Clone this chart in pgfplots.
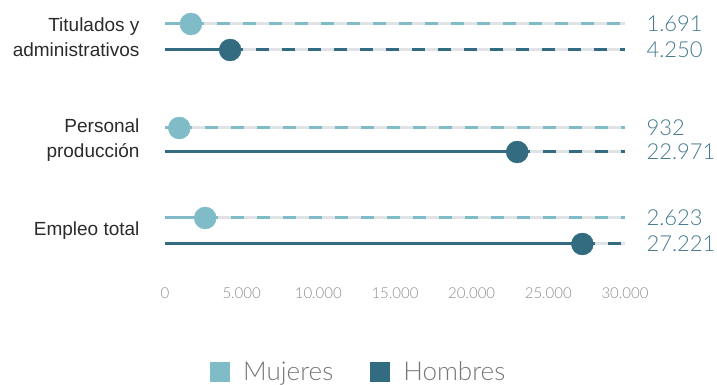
\documentclass[border=0pt]{standalone}
\usepackage{pgfplots}
\pgfplotsset{compat=1.18}
\usepackage{fontspec}
\setmainfont{Liberation Sans}
\newfontfamily\lightfont{Lato Light}
\definecolor{muj}{HTML}{7FBCC7}
\definecolor{hom}{HTML}{336B80}
\definecolor{bgl}{HTML}{DFE3E6}
\definecolor{valc}{HTML}{467A90}
\definecolor{tickc}{HTML}{8C8C8C}
\definecolor{legc}{HTML}{777777}
\definecolor{catc}{HTML}{2B2B2B}
\begin{document}
\begin{tikzpicture}
\useasboundingbox (0,0) rectangle (717pt,385pt);
\begin{axis}[
  at={(165pt,385pt)}, anchor=north west,
  scale only axis, width=460pt, height=280pt,
  xmin=0, xmax=30000, ymin=0, ymax=280,
  clip=false,
  axis line style={draw=none},
  major tick length=0pt,
  xtick={0,5000,10000,15000,20000,25000,30000},
  /pgf/number format/.cd, 1000 sep={.}, assume math mode=true, /pgfplots/.cd,
  scaled x ticks=false,
  xticklabel style={font=\lightfont\fontsize{15}{15}\selectfont, text=tickc, yshift=-4pt},
  ytick={49,140,243},
  yticklabels={Empleo total,{Personal\\producción},{Titulados y\\administrativos}},
  yticklabel style={align=right, font=\fontsize{19}{25}\selectfont, text=catc, xshift=-22pt},
  legend columns=2,
  legend style={at={(42pt,-92pt)}, anchor=west, draw=none, fill=none,
    font=\lightfont\fontsize{26}{26}\selectfont, text=legc,
    /tikz/every odd column/.append style={column sep=11pt},
    /tikz/every even column/.append style={column sep=35pt}},
  legend cell align=left,
  legend image code/.code={\path[#1, draw=none] (0pt,-10pt) rectangle (20pt,10pt);},
]
\addlegendimage{fill=muj}
\addlegendentry{Mujeres}
\addlegendimage{fill=hom}
\addlegendentry{Hombres}
% background lines
\addplot[bgl, line width=3pt, forget plot] coordinates {(0,256) (30000,256)};
\addplot[bgl, line width=3pt, forget plot] coordinates {(0,230) (30000,230)};
\addplot[bgl, line width=3pt, forget plot] coordinates {(0,152) (30000,152)};
\addplot[bgl, line width=3pt, forget plot] coordinates {(0,128) (30000,128)};
\addplot[bgl, line width=3pt, forget plot] coordinates {(0,62) (30000,62)};
\addplot[bgl, line width=3pt, forget plot] coordinates {(0,36) (30000,36)};
% dashed remainders
\addplot[muj, line width=3pt, dash pattern=on 13pt off 13pt, forget plot] coordinates {(1691,256) (30000,256)};
\addplot[hom, line width=3pt, dash pattern=on 13pt off 13pt, forget plot] coordinates {(4250,230) (30000,230)};
\addplot[muj, line width=3pt, dash pattern=on 13pt off 13pt, forget plot] coordinates {(932,152) (30000,152)};
\addplot[hom, line width=3pt, dash pattern=on 13pt off 13pt, forget plot] coordinates {(22971,128) (30000,128)};
\addplot[muj, line width=3pt, dash pattern=on 13pt off 13pt, forget plot] coordinates {(2623,62) (30000,62)};
\addplot[hom, line width=3pt, dash pattern=on 13pt off 13pt, forget plot] coordinates {(27221,36) (30000,36)};
% solid parts
\addplot[muj, line width=3pt, forget plot] coordinates {(0,256) (1691,256)};
\addplot[hom, line width=3pt, forget plot] coordinates {(0,230) (4250,230)};
\addplot[muj, line width=3pt, forget plot] coordinates {(0,152) (932,152)};
\addplot[hom, line width=3pt, forget plot] coordinates {(0,128) (22971,128)};
\addplot[muj, line width=3pt, forget plot] coordinates {(0,62) (2623,62)};
\addplot[hom, line width=3pt, forget plot] coordinates {(0,36) (27221,36)};
% dots
\addplot[muj, only marks, mark=*, mark size=11pt, mark options={draw=muj, fill=muj}, forget plot]
  coordinates {(1691,256) (932,152) (2623,62)};
\addplot[hom, only marks, mark=*, mark size=11pt, mark options={draw=hom, fill=hom}, forget plot]
  coordinates {(4250,230) (22971,128) (27221,36)};
% value labels
\node[anchor=west, font=\lightfont\fontsize{22}{22}\selectfont, text=valc] at (axis cs:30000,256) {\hspace{18pt}1.691};
\node[anchor=west, font=\lightfont\fontsize{22}{22}\selectfont, text=valc] at (axis cs:30000,230) {\hspace{18pt}4.250};
\node[anchor=west, font=\lightfont\fontsize{22}{22}\selectfont, text=valc] at (axis cs:30000,152) {\hspace{18pt}932};
\node[anchor=west, font=\lightfont\fontsize{22}{22}\selectfont, text=valc] at (axis cs:30000,128) {\hspace{18pt}22.971};
\node[anchor=west, font=\lightfont\fontsize{22}{22}\selectfont, text=valc] at (axis cs:30000,62) {\hspace{18pt}2.623};
\node[anchor=west, font=\lightfont\fontsize{22}{22}\selectfont, text=valc] at (axis cs:30000,36) {\hspace{18pt}27.221};
\end{axis}
\end{tikzpicture}
\end{document}
